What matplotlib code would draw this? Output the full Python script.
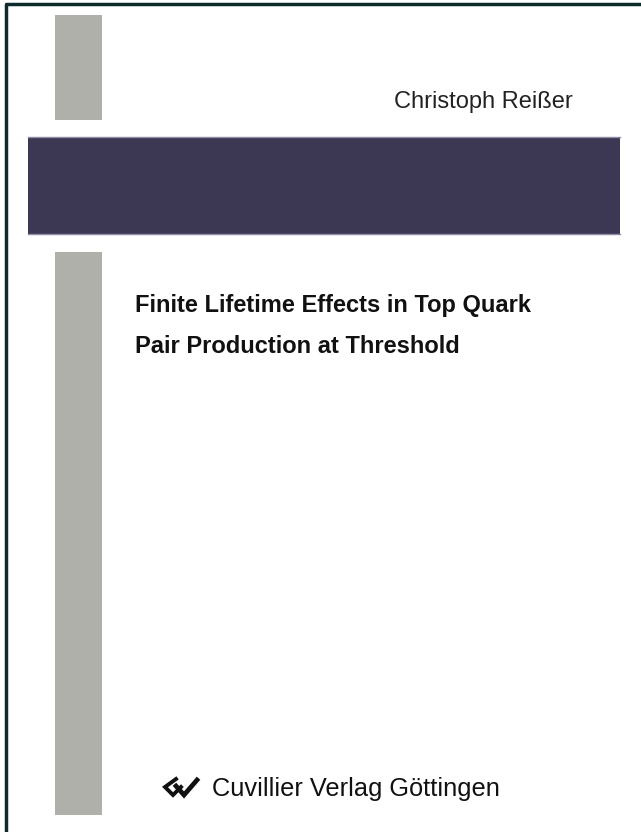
import matplotlib.pyplot as plt
from matplotlib.patches import Rectangle

# === Тексты обложки ===
author = "Christoph Reißer"
title_lines = ["Finite Lifetime Effects in Top Quark", "Pair Production at Threshold"]
publisher = "Cuvillier Verlag Göttingen"

# === Цвета ===
BORDER = "#0d2b2b"
BAND = "#3c3753"
BAND_EDGE = "#8f8ba3"
GRAY = "#b0b0aa"

plt.rcParams['font.family'] = ['Liberation Sans', 'DejaVu Sans']

fig = plt.figure(figsize=(6.41, 8.32), dpi=100)
ax = fig.add_axes([0, 0, 1, 1])
ax.set_xlim(0, 641)
ax.set_ylim(832, 0)
ax.axis("off")

# рамка (сверху и слева)
ax.plot([6, 6, 641], [832, 4, 4], color=BORDER, lw=2.5, solid_capstyle="butt")

# серые полосы
ax.add_patch(Rectangle((55, 15), 47, 105, color=GRAY, lw=0))
ax.add_patch(Rectangle((55, 252), 47, 563, color=GRAY, lw=0))

# тёмная полоса
ax.add_patch(Rectangle((28, 137), 592, 97, color=BAND, lw=0))
ax.plot([28, 620], [137, 137], color=BAND_EDGE, lw=1)
ax.plot([28, 620], [234, 234], color=BAND_EDGE, lw=1)

# автор
ax.text(573, 108, author, ha="right", va="baseline", fontsize=17, color="#222222")

# заголовок
for i, line in enumerate(title_lines):
    ax.text(135, 312 + i * 41, line, ha="left", va="baseline",
            fontsize=17, fontweight="bold", color="#111111")

# логотип издательства
ax.plot([176, 165, 173, 181], [779, 787, 795, 787], color="#111111", lw=2.8,
        solid_joinstyle="miter")
ax.plot([176, 184, 197], [786, 795, 780], color="#111111", lw=3.4,
        solid_joinstyle="miter")

ax.text(212, 796, publisher, ha="left", va="baseline", fontsize=18.3, color="#111111")

fig.savefig("out.png", dpi=100, facecolor="white")
